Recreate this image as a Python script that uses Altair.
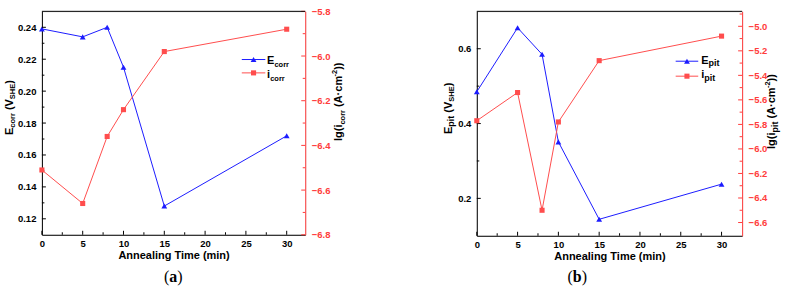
import altair as alt
import pandas as pd

# ---- data -------------------------------------------------------------
times = [0, 5, 8, 10, 15, 30]
e_corr = [0.239, 0.234, 0.240, 0.215, 0.128, 0.172]
lg_i_corr = [-6.51, -6.66, -6.36, -6.24, -5.98, -5.88]
e_pit = [0.485, 0.656, 0.585, 0.351, 0.144, 0.238]
lg_i_pit = [-5.77, -5.54, -6.50, -5.78, -5.28, -5.08]

x_majors = [0, 5, 10, 15, 20, 25, 30]
x_minors = [2.5, 7.5, 12.5, 17.5, 22.5, 27.5]

a_left_majors = [0.12, 0.14, 0.16, 0.18, 0.20, 0.22, 0.24]
a_left_minors = [0.13, 0.15, 0.17, 0.19, 0.21, 0.23]
a_right_majors = [-6.8, -6.6, -6.4, -6.2, -6.0, -5.8]
a_right_minors = [-6.7, -6.5, -6.3, -6.1, -5.9]

b_left_majors = [0.2, 0.4, 0.6]
b_left_minors = [0.3, 0.5]
b_right_majors = [-6.6, -6.4, -6.2, -6.0, -5.8, -5.6, -5.4, -5.2, -5.0]
b_right_minors = [-6.5, -6.3, -6.1, -5.9, -5.7, -5.5, -5.3, -5.1, -4.9]

# ---- style ------------------------------------------------------------
FONT = "Liberation Sans"
SERIF = "Liberation Serif"
BLUE = "#1c1cff"
RED = "#ff4d4d"
AXIS_RED = "#ff3c3c"
ONE = alt.Data(values=[{}])

# Arial-bold advance widths (em) for the characters used in the titles
ADV = {"E": .667, "c": .556, "o": .611, "r": .389, " ": .278, "(": .333,
       ")": .333, "V": .667, "S": .667, "H": .722, "l": .278, "g": .611,
       "i": .278, "A": .722, "·": .278, "m": .889, "-": .333, "2": .556,
       "p": .611, "t": .333, "a": .5, "b": .556}


def width(s, size):
    return sum(ADV.get(ch, .556) for ch in s) * size


def rich_text(pieces, x, y, vertical=False, color="black", font=FONT):
    """Draw text made of runs (text, size, baseline shift, weight)."""
    out = []
    pos = 0.0
    for run in pieces:
        txt, size, shift = run[:3]
        weight = run[3] if len(run) > 3 else "bold"
        lead = len(txt) - len(txt.lstrip(" "))
        pos += width(" " * lead, size)
        txt = txt.lstrip(" ")
        if vertical:
            px, py, ang = x + shift, y - pos, 270
        else:
            px, py, ang = x + pos, y + shift, 0
        out.append(
            alt.Chart(ONE).mark_text(
                text=txt, font=font, fontSize=size, fontWeight=weight,
                align="left", baseline="alphabetic", angle=ang, color=color,
            ).encode(x=alt.value(px), y=alt.value(py))
        )
        pos += width(txt, size)
    return out


def legend_entry(x1, x2, y, color, shape, size):
    line = alt.Chart(ONE).mark_rule(color=color, strokeWidth=1).encode(
        x=alt.value(x1), x2=alt.value(x2), y=alt.value(y))
    mark = alt.Chart(ONE).mark_point(
        shape=shape, filled=True, size=size, color=color, opacity=1
    ).encode(x=alt.value((x1 + x2) / 2), y=alt.value(y))
    return [line, mark]


def panel(e_vals, i_vals, w, h, x_max, left_dom, right_dom,
          lmaj, lmin, lfmt, rmaj, rmin, extras):
    df = pd.DataFrame({"t": times, "e": e_vals, "i": i_vals})

    x_axis = alt.Axis(
        values=x_majors, format="d", ticks=False, grid=False,
        domainColor="black", domainWidth=1, labelOverlap=False,
        labelFont=FONT, labelFontSize=9.5, labelFontWeight="bold",
        labelColor="black", labelPadding=4, labelFlush=False,
        title="Annealing Time (min)", titleFont=FONT, titleFontSize=11,
        titleFontWeight="bold", titleColor="black", titlePadding=1,
    )
    left_axis = alt.Axis(
        orient="left", values=lmaj, format=lfmt, ticks=False, grid=False,
        title=None, domainColor="black", domainWidth=1, labelOverlap=False,
        labelFont=FONT, labelFontSize=9.5, labelFontWeight="bold",
        labelColor="black", labelPadding=6, labelFlush=False,
    )
    right_axis = alt.Axis(
        orient="right", values=rmaj, format=".1f", ticks=False, grid=False,
        title=None, domainColor=AXIS_RED, domainWidth=1, labelOverlap=False,
        labelFont=FONT, labelFontSize=9.5, labelFontWeight="bold",
        labelColor=AXIS_RED, labelPadding=6, labelFlush=False,
    )
    x_scale = alt.Scale(domain=[0, x_max], nice=False, zero=False)
    l_scale = alt.Scale(domain=left_dom, nice=False, zero=False)
    r_scale = alt.Scale(domain=right_dom, nice=False, zero=False)

    def X():
        return alt.X("t:Q", scale=x_scale, axis=x_axis)

    def YL():
        return alt.Y("e:Q", scale=l_scale, axis=left_axis)

    def YR():
        return alt.Y("i:Q", scale=r_scale, axis=right_axis)

    base = alt.Chart(df)
    e_line = base.mark_line(color=BLUE, strokeWidth=1).encode(x=X(), y=YL())
    e_pts = base.mark_point(shape="triangle-up", filled=True, size=34,
                            color=BLUE, opacity=1).encode(x=X(), y=YL())

    # inward tick marks on the left and bottom axes
    lt_major = alt.Chart(pd.DataFrame({"e": lmaj})).mark_rule(
        color="black", strokeWidth=1).encode(
        y=YL(), x=alt.value(0), x2=alt.value(4))
    lt_minor = alt.Chart(pd.DataFrame({"e": lmin})).mark_rule(
        color="black", strokeWidth=1).encode(
        y=YL(), x=alt.value(0), x2=alt.value(2.5))
    bt_major = alt.Chart(pd.DataFrame({"t": x_majors})).mark_rule(
        color="black", strokeWidth=1).encode(
        x=X(), y=alt.value(h), y2=alt.value(h - 4))
    bt_minor = alt.Chart(pd.DataFrame({"t": x_minors})).mark_rule(
        color="black", strokeWidth=1).encode(
        x=X(), y=alt.value(h), y2=alt.value(h - 2.5))

    left = alt.layer(e_line, e_pts, lt_major, lt_minor, bt_major, bt_minor)

    i_line = base.mark_line(color=RED, strokeWidth=1).encode(x=X(), y=YR())
    i_pts = base.mark_point(shape="square", filled=True, size=26,
                            color=RED, opacity=1).encode(x=X(), y=YR())
    # inward tick marks on the right axis
    rt_major = alt.Chart(pd.DataFrame({"i": rmaj})).mark_rule(
        color=AXIS_RED, strokeWidth=1).encode(
        y=YR(), x=alt.value(w), x2=alt.value(w - 4))
    rt_minor = alt.Chart(pd.DataFrame({"i": rmin})).mark_rule(
        color=AXIS_RED, strokeWidth=1).encode(
        y=YR(), x=alt.value(w), x2=alt.value(w - 2.5))
    right = alt.layer(i_line, i_pts, rt_major, rt_minor)

    top = alt.Chart(ONE).mark_rule(color="black", strokeWidth=1).encode(
        x=alt.value(0), x2=alt.value(w), y=alt.value(0))

    return alt.layer(left, right, top, *extras).resolve_scale(
        y="independent").properties(width=w, height=h)


# ---- panel (a) --------------------------------------------------------
WA, HA = 264, 224
a_extras = []
a_extras += rich_text([("E", 11, 0), ("corr", 7.5, 2.8), (" (V", 11, 0),
                       ("SHE", 7.5, 2.8), (")", 11, 0)], -29.3, 124, True)
a_extras += rich_text([("lg(i", 11, 0), ("corr", 7.5, 2.8), (" (A·cm", 11, 0),
                       ("-2", 7.5, -4.5), ("))", 11, 0)], 300.7, 130, True)
a_extras += legend_entry(200.4, 224, 48.3, BLUE, "triangle-up", 34)
a_extras += legend_entry(200.4, 224, 61.7, RED, "square", 26)
a_extras += rich_text([("E", 11, 0), ("corr", 7.5, 3)], 225.8, 52.5)
a_extras += rich_text([("i", 11, 0), ("corr", 7.5, 3)], 225.8, 66.5)
a_extras += rich_text([("(", 16, 0, "normal"), ("a", 16, 0, "bold"),
                       (")", 16, 0, "normal")], 122.4, 271, font=SERIF)
# fixes the top-left corner of the figure
a_extras.append(alt.Chart(ONE).mark_rule(color="white", strokeWidth=1).encode(
    x=alt.value(-40.8), x2=alt.value(-40.8), y=alt.value(-10), y2=alt.value(-9)))

chart_a = panel(e_corr, lg_i_corr, WA, HA, 32.27, [0.11, 0.25], [-6.8, -5.8],
                a_left_majors, a_left_minors, ".2f",
                a_right_majors, a_right_minors, a_extras)

# ---- panel (b) --------------------------------------------------------
WB, HB = 266, 225
b_extras = []
b_extras += rich_text([("E", 11, 0), ("pit", 9, 2.8), (" (V", 11, 0),
                       ("SHE", 7.5, 2.8), (")", 11, 0)], -25.3, 123, True)
b_extras += rich_text([("lg(i", 11, 0), ("pit", 9, 2.8), (" (A·cm", 11, 0),
                       ("-2", 7.5, -4.5), ("))", 11, 0)], 298.7, 138, True)
b_extras += legend_entry(199.4, 222, 50, BLUE, "triangle-up", 34)
b_extras += legend_entry(199.4, 222, 65, RED, "square", 26)
b_extras += rich_text([("E", 11, 0), ("pit", 9, 2.8)], 225, 52.5)
b_extras += rich_text([("i", 11, 0), ("pit", 9, 2.8)], 225, 67.3)
b_extras += rich_text([("(", 16, 0, "normal"), ("b", 16, 0, "bold"),
                       (")", 16, 0, "normal")], 91, 271, font=SERIF)
b_extras.append(alt.Chart(ONE).mark_rule(color="white", strokeWidth=1).encode(
    x=alt.value(309.7), x2=alt.value(309.7), y=alt.value(277), y2=alt.value(278)))

chart_b = panel(e_pit, lg_i_pit, WB, HB, 32.52, [0.1, 0.7], [-6.708, -4.878],
                b_left_majors, b_left_minors, ".1f",
                b_right_majors, b_right_minors, b_extras)

chart = alt.hconcat(chart_a, chart_b, spacing=172, bounds="flush").properties(
    padding={"left": 0, "top": 0, "right": 0, "bottom": 0}
).configure_view(stroke=None).configure(background="white")

chart.save("out.html", embed_options={"renderer": "svg", "actions": False})
